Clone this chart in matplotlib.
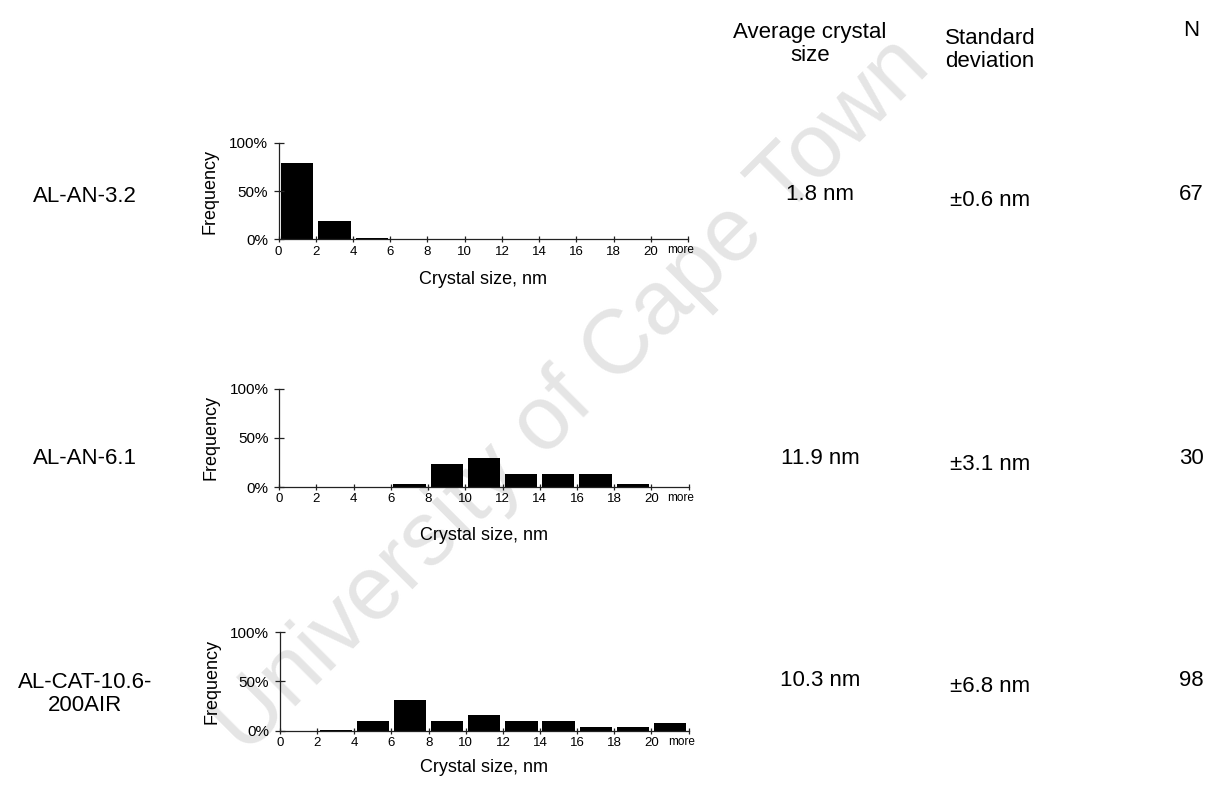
import matplotlib
matplotlib.use("Agg")
import matplotlib.pyplot as plt

plt.rcParams['font.family'] = ['Liberation Sans', 'DejaVu Sans']

# size classes (nm) and relative frequencies (%) per sample
bin_labels = ["0", "2", "4", "6", "8", "10", "12", "14", "16", "18", "20"]
last_label = "more"
freq_an32 = [79.1, 19.4, 1.5, 0, 0, 0, 0, 0, 0, 0, 0]
freq_an61 = [0, 0, 0, 3.3, 23.3, 30.0, 13.3, 13.3, 13.3, 3.3, 0]
freq_cat106 = [0, 1.0, 10.2, 30.6, 10.2, 16.3, 10.2, 10.2, 4.1, 4.1, 8.2]

samples = ["AL-AN-3.2", "AL-AN-6.1", "AL-CAT-10.6-\n200AIR"]
avg_size = ["1.8 nm", "11.9 nm", "10.3 nm"]
std_dev = ["±0.6 nm", "±3.1 nm", "±6.8 nm"]
n_counts = [67, 30, 98]

W, H = 1209, 790
fig = plt.figure(figsize=(W / 100, H / 100), dpi=100)
fig.patch.set_facecolor("white")


def px(x, y):
    return x / W, 1 - y / H


# watermark
fig.text(*px(572, 396), "University of Cape Town", fontsize=65, color="#e5e5e5",
         rotation=45, ha="center", va="center", rotation_mode="anchor", zorder=-5)

# column headers
big = 16
fig.text(*px(810, 44), "Average crystal\nsize", fontsize=big, ha="center", va="center",
         linespacing=1.15)
fig.text(*px(990, 50), "Standard\ndeviation", fontsize=big, ha="center", va="center",
         linespacing=1.15)
fig.text(*px(1191, 30), "N", fontsize=big, ha="center", va="center")

# axes rectangles (left, bottom, width, height) and x-label offsets in px
rects = [
    [0.2305, 0.6970, 0.3385, 0.1223],
    [0.2310, 0.3835, 0.3385, 0.1244],
    [0.2316, 0.0751, 0.3380, 0.1249],
]
xlabel_off = [40, 48, 37]
row_y = [196, 458, 694]
val_y = [194, 458, 680]

all_freqs = [freq_an32, freq_an61, freq_cat106]
nbins = len(bin_labels)

for i, (rect, freqs) in enumerate(zip(rects, all_freqs)):
    ax = fig.add_axes(rect)
    ax.patch.set_alpha(0)
    xs = [k + 0.5 for k in range(nbins)]
    ax.bar(xs, [f / 100 for f in freqs], width=0.87, color="black", linewidth=0)

    ax.set_xlim(0, nbins)
    ax.set_ylim(0, 1)
    for s in ("top", "right"):
        ax.spines[s].set_visible(False)
    for s in ("left", "bottom"):
        ax.spines[s].set_linewidth(0.9)
        ax.spines[s].set_color("#222222")

    ax.set_xticks(range(nbins + 1))
    ax.set_xticklabels(bin_labels + [""])
    ax.set_yticks([0, 0.5, 1])
    ax.set_yticklabels(["0%", "50%", "100%"])
    ax.tick_params(axis="x", direction="inout", length=5, width=0.9, pad=2,
                   labelsize=9.5, colors="#222222", labelcolor="black")
    ax.tick_params(axis="y", direction="inout", length=7.5, width=0.9, pad=4,
                   labelsize=11, colors="#222222", labelcolor="black")

    ax.annotate(last_label, xy=(nbins - 0.2, 0), xycoords=("data", "axes fraction"),
                xytext=(0, -3.5), textcoords="offset points", ha="center", va="top",
                fontsize=8.5)

    h_px = rect[3] * H
    ax.set_xlabel("Crystal size, nm", fontsize=13)
    ax.xaxis.set_label_coords(0.5, -xlabel_off[i] / h_px)
    ax.xaxis.label.set_va("center")
    ax.set_ylabel("Frequency", fontsize=13)
    ax.yaxis.set_label_coords(-60 / (rect[2] * W), 0.5)

    fig.text(*px(85, row_y[i]), samples[i], fontsize=big, ha="center", va="center",
             linespacing=1.15)
    fig.text(*px(820, val_y[i]), avg_size[i], fontsize=big, ha="center", va="center")
    fig.text(*px(990, val_y[i] + 7), std_dev[i], fontsize=big, ha="center", va="center")
    fig.text(*px(1191, val_y[i]), str(n_counts[i]), fontsize=big, ha="center", va="center")

fig.savefig("out.png", dpi=100)
